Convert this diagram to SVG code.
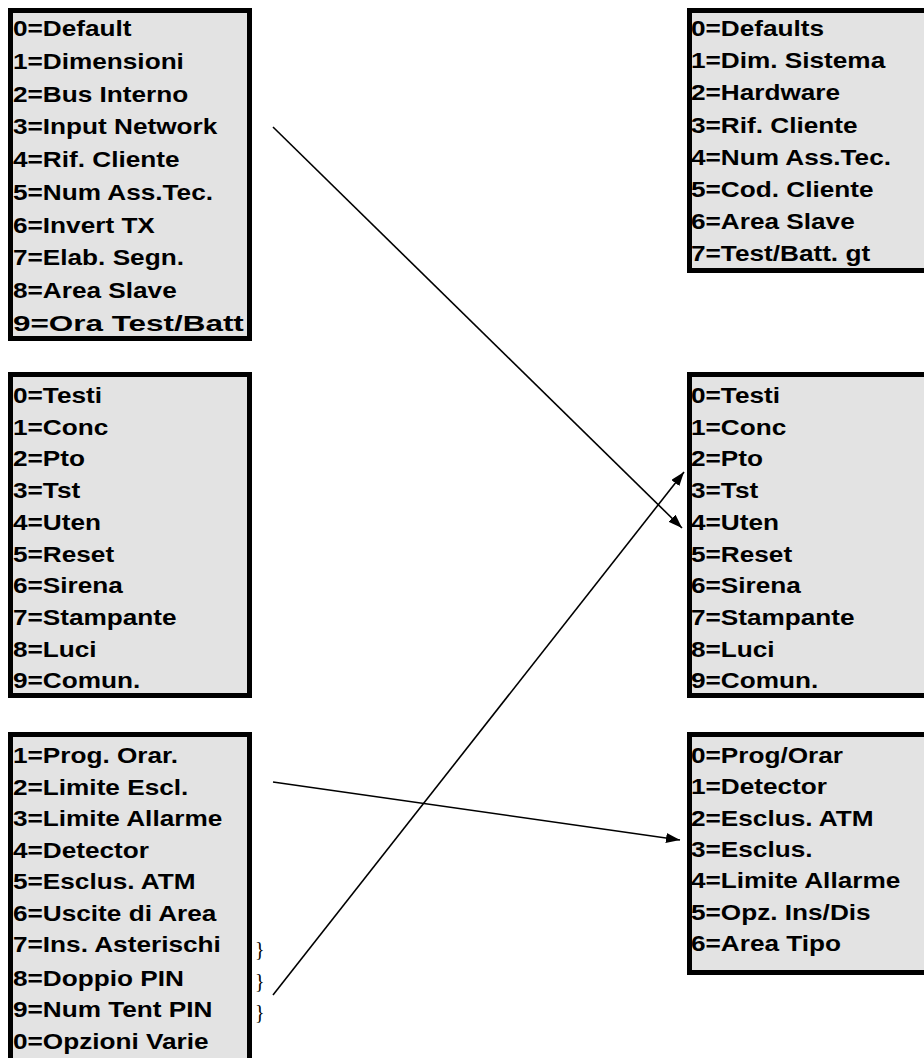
<svg xmlns="http://www.w3.org/2000/svg" width="924" height="1058" viewBox="0 0 924 1058">
<style>
.box{fill:#e3e3e3;stroke:#000;stroke-width:5}
.t{font-family:"Liberation Sans",Arial,sans-serif;font-weight:bold;font-size:22px;fill:#000}
.br{font-family:"Liberation Serif","Times New Roman",serif;font-size:20px;fill:#000}
.conn{stroke:#000;stroke-width:1.6;fill:none;marker-end:url(#ah)}
</style>
<defs>
<marker id="ah" viewBox="0 0 14 10" refX="14" refY="5" markerWidth="14" markerHeight="10" markerUnits="userSpaceOnUse" orient="auto">
<path d="M0,0 L14,5 L0,10 z" fill="#000"/>
</marker>
</defs>
<rect width="924" height="1058" fill="#fff"/>

<g id="left1">
<rect class="box" x="10.5" y="10.5" width="239" height="328"/>
<g transform="translate(13 0) scale(1.19 1)">
<text class="t" x="0" y="36">0=Default</text>
<text class="t" x="0" y="69">1=Dimensioni</text>
<text class="t" x="0" y="102">2=Bus Interno</text>
<text class="t" x="0" y="134">3=Input Network</text>
<text class="t" x="0" y="167">4=Rif. Cliente</text>
<text class="t" x="0" y="200">5=Num Ass.Tec.</text>
<text class="t" x="0" y="233">6=Invert TX</text>
<text class="t" x="0" y="265">7=Elab. Segn.</text>
<text class="t" x="0" y="298">8=Area Slave</text>
<text class="t" x="0" y="331" textLength="194" lengthAdjust="spacingAndGlyphs">9=Ora Test/Batt</text>
</g>
</g>

<g id="left2">
<rect class="box" x="10.5" y="374.5" width="239" height="321"/>
<g transform="translate(13 0) scale(1.19 1)">
<text class="t" x="0" y="403">0=Testi</text>
<text class="t" x="0" y="435">1=Conc</text>
<text class="t" x="0" y="466">2=Pto</text>
<text class="t" x="0" y="498">3=Tst</text>
<text class="t" x="0" y="530">4=Uten</text>
<text class="t" x="0" y="562">5=Reset</text>
<text class="t" x="0" y="593">6=Sirena</text>
<text class="t" x="0" y="625">7=Stampante</text>
<text class="t" x="0" y="657">8=Luci</text>
<text class="t" x="0" y="688">9=Comun.</text>
</g>
</g>

<g id="left3">
<rect class="box" x="10.5" y="734.5" width="239" height="400"/>
<g transform="translate(13 0) scale(1.19 1)">
<text class="t" x="0" y="763">1=Prog. Orar.</text>
<text class="t" x="0" y="795">2=Limite Escl.</text>
<text class="t" x="0" y="826">3=Limite Allarme</text>
<text class="t" x="0" y="858">4=Detector</text>
<text class="t" x="0" y="889">5=Esclus. ATM</text>
<text class="t" x="0" y="921">6=Uscite di Area</text>
<text class="t" x="0" y="952">7=Ins. Asterischi</text>
<text class="t" x="0" y="986">8=Doppio PIN</text>
<text class="t" x="0" y="1017">9=Num Tent PIN</text>
<text class="t" x="0" y="1049">0=Opzioni Varie</text>
</g>
<text class="br" x="255" y="956">}</text>
<text class="br" x="255" y="988">}</text>
<text class="br" x="255" y="1019">}</text>
</g>

<g id="right1">
<rect class="box" x="689.5" y="10.5" width="300" height="260"/>
<g transform="translate(691 0) scale(1.19 1)">
<text class="t" x="0" y="36">0=Defaults</text>
<text class="t" x="0" y="68">1=Dim. Sistema</text>
<text class="t" x="0" y="100">2=Hardware</text>
<text class="t" x="0" y="133">3=Rif. Cliente</text>
<text class="t" x="0" y="165">4=Num Ass.Tec.</text>
<text class="t" x="0" y="197">5=Cod. Cliente</text>
<text class="t" x="0" y="229">6=Area Slave</text>
<text class="t" x="0" y="261">7=Test/Batt. gt</text>
</g>
</g>

<g id="right2">
<rect class="box" x="689.5" y="374.5" width="300" height="321"/>
<g transform="translate(691 0) scale(1.19 1)">
<text class="t" x="0" y="403">0=Testi</text>
<text class="t" x="0" y="435">1=Conc</text>
<text class="t" x="0" y="466">2=Pto</text>
<text class="t" x="0" y="498">3=Tst</text>
<text class="t" x="0" y="530">4=Uten</text>
<text class="t" x="0" y="562">5=Reset</text>
<text class="t" x="0" y="593">6=Sirena</text>
<text class="t" x="0" y="625">7=Stampante</text>
<text class="t" x="0" y="657">8=Luci</text>
<text class="t" x="0" y="688">9=Comun.</text>
</g>
</g>

<g id="right3">
<rect class="box" x="689.5" y="734.5" width="300" height="238"/>
<g transform="translate(691 0) scale(1.19 1)">
<text class="t" x="0" y="763">0=Prog/Orar</text>
<text class="t" x="0" y="794">1=Detector</text>
<text class="t" x="0" y="826">2=Esclus. ATM</text>
<text class="t" x="0" y="857">3=Esclus.</text>
<text class="t" x="0" y="888">4=Limite Allarme</text>
<text class="t" x="0" y="920">5=Opz. Ins/Dis</text>
<text class="t" x="0" y="951">6=Area Tipo</text>
</g>
</g>

<g id="connectors">
<line class="conn" x1="273" y1="127" x2="682" y2="528"/>
<line class="conn" x1="273" y1="995" x2="684" y2="472"/>
<line class="conn" x1="273" y1="782" x2="680" y2="840"/>
</g>
</svg>
